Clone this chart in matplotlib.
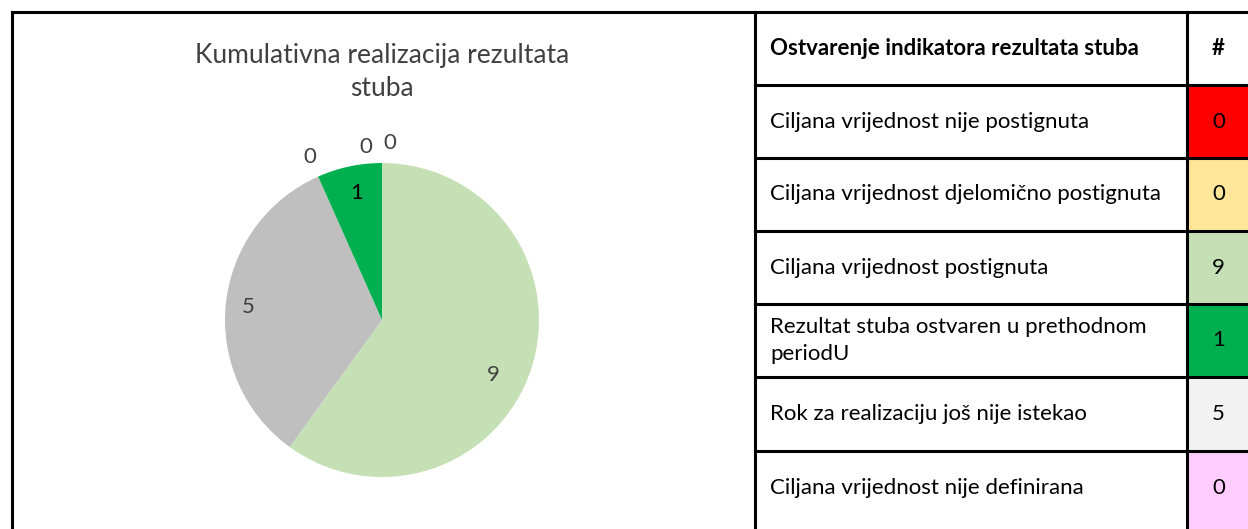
import matplotlib.pyplot as plt
from matplotlib.patches import Rectangle

# Data
title = "Kumulativna realizacija rezultata\nstuba"
header_label = "Ostvarenje indikatora rezultata stuba"
header_value = "#"
row_labels = [
    "Ciljana vrijednost nije postignuta",
    "Ciljana vrijednost djelomično postignuta",
    "Ciljana vrijednost postignuta",
    "Rezultat stuba ostvaren u prethodnom\nperiodU",
    "Rok za realizaciju još nije istekao",
    "Ciljana vrijednost nije definirana",
]
row_values = [0, 0, 9, 1, 5, 0]
row_colors = ["#FF0000", "#FFE699", "#C5E0B4", "#00B050", "#F2F2F2", "#FFCCFF"]

# pie slice order (clockwise from top)
pie_values = [0, 0, 9, 5, 0, 1]
pie_colors = ["#FF0000", "#FFE699", "#C5E0B4", "#BFBFBF", "#FFCCFF", "#00B050"]

W, H = 1248, 529
fig = plt.figure(figsize=(W / 100, H / 100), dpi=100)
plt.rcParams['font.family'] = ['Lato', 'DejaVu Sans']

# background axes in pixel coordinates
bg = fig.add_axes([0, 0, 1, 1])
bg.set_xlim(0, W)
bg.set_ylim(H, 0)
bg.axis('off')

lw = 2.2
fs = 16
# left panel frame
bg.plot([12, 12], [H + 5, 12], color='black', lw=lw, solid_capstyle='projecting')
bg.plot([12, 755], [12, 12], color='black', lw=lw)

# table
x0, xdiv, x1 = 755, 1187, W + 5
row_tops = [12, 85, 158, 231, 304, 377, 451, H + 5]
bg.text(770, (row_tops[0] + row_tops[1]) / 2, header_label, fontsize=fs,
        fontweight='bold', va='center', ha='left')
bg.text((xdiv + W) / 2 + 1, (row_tops[0] + row_tops[1]) / 2, header_value,
        fontsize=fs, fontweight='bold', va='center', ha='center')
for i, (lab, val, col) in enumerate(zip(row_labels, row_values, row_colors)):
    top, bot = row_tops[i + 1], row_tops[i + 2]
    if i == len(row_labels) - 1:
        mid = (top + 524) / 2
    else:
        mid = (top + bot) / 2
    bg.add_patch(Rectangle((xdiv, top), x1 - xdiv, bot - top, facecolor=col,
                           edgecolor='none', zorder=1))
    bg.text(770, mid, lab, fontsize=fs, va='center', ha='left',
            linespacing=1.45, zorder=3)
    bg.text((xdiv + W) / 2 + 1, mid, str(val), fontsize=fs,
            va='center', ha='center', zorder=3)
for y in row_tops[:-1]:
    bg.plot([x0, x1], [y, y], color='black', lw=lw, zorder=4)
for x in [x0, xdiv]:
    bg.plot([x, x], [12, H + 5], color='black', lw=lw, zorder=4)

# title
bg.text(382, 72, title, fontsize=19, color='#404040', ha='center',
        va='center', linespacing=1.4)

# pie
cx, cy, r = 382, 320, 157
half = r * 1.3
ax = fig.add_axes([(cx - half) / W, (H - cy - half) / H, 2 * half / W, 2 * half / H])
wedges, texts = ax.pie(pie_values, colors=pie_colors, startangle=90,
                       counterclock=False, labels=[str(v) for v in pie_values],
                       labeldistance=0.82,
                       textprops={'fontsize': 16, 'color': '#404040'})
ax.set_xlim(-1.3, 1.3)
ax.set_ylim(-1.3, 1.3)
ax.set_aspect('equal')

# label placement as in the original (zero slices pushed outside)
label_pos = {0: (0.05, 1.13), 1: (-0.1, 1.1), 2: (0.71, -0.35),
             3: (-0.85, 0.08), 4: (-0.46, 1.04), 5: (-0.16, 0.81)}
for i, t in enumerate(texts):
    t.set_ha('center')
    t.set_va('center')
    t.set_position(label_pos[i])
    if pie_values[i] == 1:
        t.set_color('black')

fig.savefig("out.png", dpi=100)
